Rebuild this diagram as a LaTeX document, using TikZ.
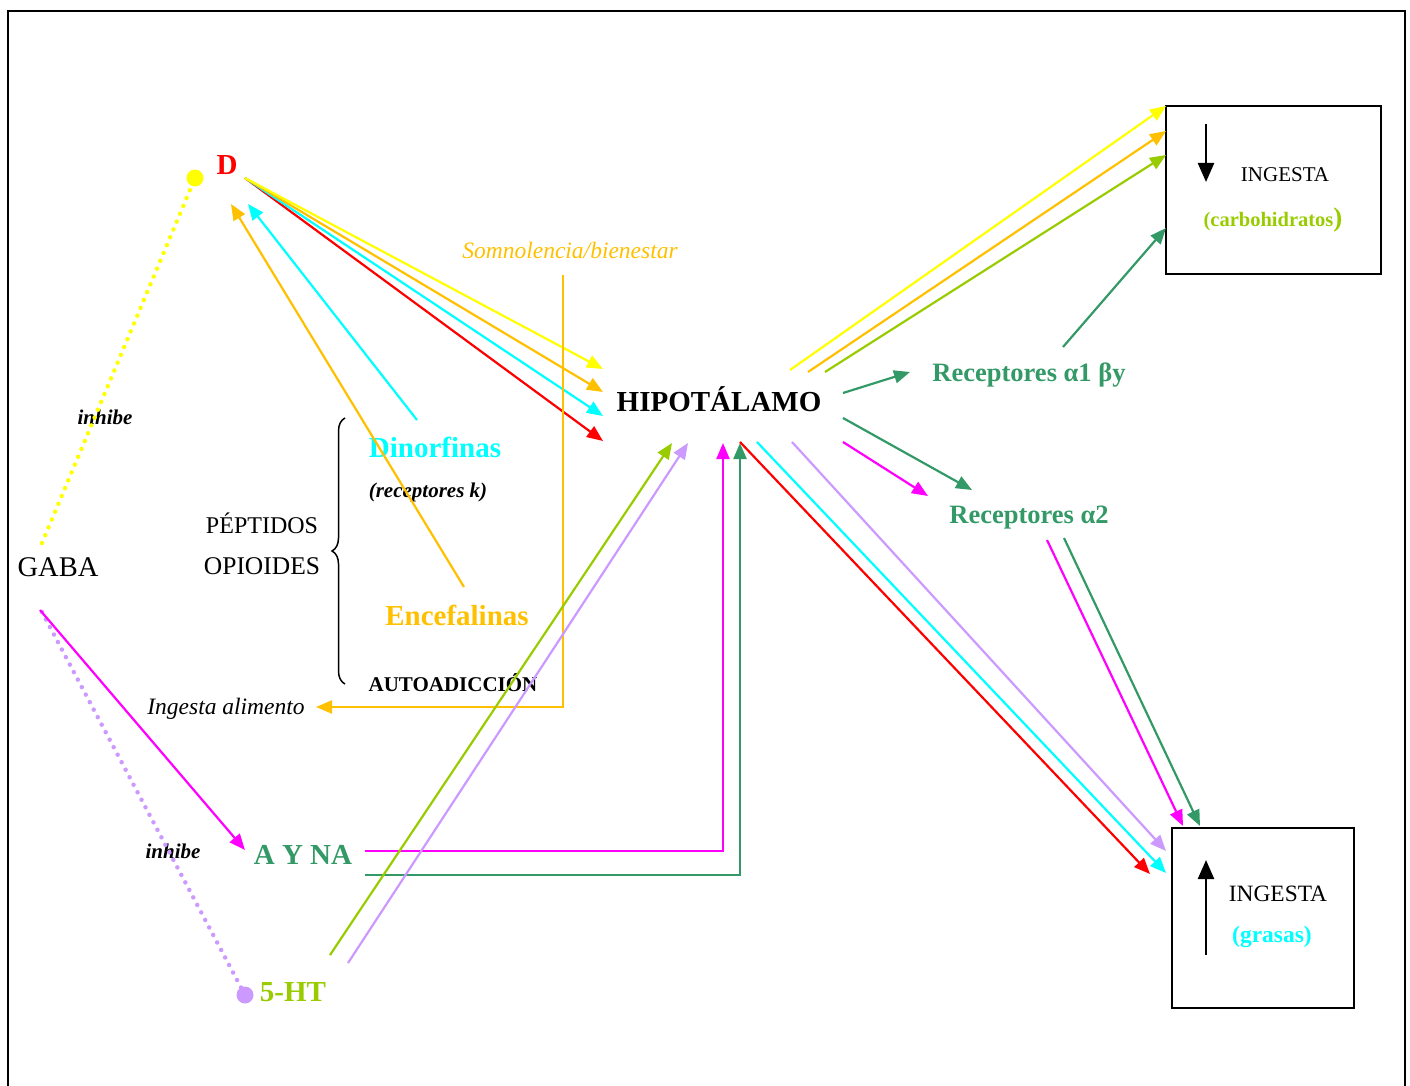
\documentclass[tikz,border=0pt]{standalone}
\usepackage{fontspec}
\setmainfont{Liberation Serif}
\usetikzlibrary{arrows.meta,decorations.pathreplacing}
\definecolor{cYel}{HTML}{FFFF00}
\definecolor{cOra}{HTML}{FFC000}
\definecolor{cCya}{HTML}{00FFFF}
\definecolor{cRed}{HTML}{FF0000}
\definecolor{cMag}{HTML}{FF00FF}
\definecolor{cGrn}{HTML}{339966}
\definecolor{cLim}{HTML}{99CC00}
\definecolor{cLav}{HTML}{CC99FF}
\tikzset{
  conn/.style={line width=2.2pt,-{Triangle[length=16pt,width=13pt]}},
  bigarr/.style={line width=2.4pt,-{Triangle[length=19pt,width=16pt]}},
  dotline/.style={line width=4.5pt,line cap=round,dash pattern=on 0pt off 8.5pt},
  lbl/.style={inner sep=0pt,anchor=center},
  bigb/.style={lbl,font=\fontsize{29}{33}\selectfont\bfseries},
  medr/.style={lbl,font=\fontsize{24}{28}\selectfont},
  smbi/.style={lbl,font=\fontsize{21}{24}\selectfont\bfseries\itshape},
  midi/.style={lbl,font=\fontsize{23.5}{27}\selectfont\itshape},
  boxr/.style={draw,line width=2pt},
}
\begin{document}
\begin{tikzpicture}[x=1pt,y=-1pt]
\useasboundingbox (0,0) rectangle (1410,1086);
% frame
\draw[line width=2.5pt] (8,1086) -- (8,11) -- (1405,11) -- (1405,1086);

% text nodes
\node[bigb,text=cRed] (D) at (227,165) {D};
\node[bigb] (hip) at (719,399) {HIPOTÁLAMO};
\node[lbl,text=cGrn,font=\fontsize{26.5}{29}\selectfont\bfseries] (ra1) at (1029,375) {Receptores α1 βy};
\node[lbl,text=cGrn,font=\fontsize{26.5}{29}\selectfont\bfseries] (ra2) at (1029,518) {Receptores α2};
\node[bigb,text=cCya] (din) at (435,447) {Dinorfinas};
\node[smbi] (rk) at (428,492) {(receptores k)};
\node[medr] (pep) at (262,523) {PÉPTIDOS};
\node[lbl,font=\fontsize{25.5}{29}\selectfont] (opi) at (262,566) {OPIOIDES};
\node[lbl,font=\fontsize{28.5}{32}\selectfont] (gaba) at (58,567) {GABA};
\node[bigb,text=cOra] (enc) at (457,615) {Encefalinas};
\node[lbl,font=\fontsize{21}{24}\selectfont\bfseries] (auto) at (453,683) {AUTOADICCIÓN};
\node[midi] (ing) at (226,709) {Ingesta alimento};
\node[smbi] (inh1) at (105,417) {inhibe};
\node[smbi] (inh2) at (173,851) {inhibe};
\node[bigb,text=cGrn] (ayna) at (303,855) {A Y NA};
\node[bigb,text=cLim] (ht) at (293,992) {5-HT};
\node[midi,text=cOra] (som) at (570,250) {Somnolencia/bienestar};

% boxes
\node[boxr,minimum width=215pt,minimum height=168pt,inner sep=0pt] (boxc) at (1273.5,190) {};
\node[boxr,minimum width=182pt,minimum height=180pt,inner sep=0pt] (boxg) at (1263,918) {};
\node[lbl,font=\fontsize{21}{24}\selectfont] (ingc) at (1285,175) {INGESTA};
\node[lbl,text=cLim,font=\bfseries] (carb) at (1273,220) {{\fontsize{20.5}{24}\selectfont(carbohidratos}{\fontsize{27}{28}\selectfont)}};
\node[lbl,font=\fontsize{23.4}{27}\selectfont] (ingg) at (1278,894) {INGESTA};
\node[lbl,text=cCya,font=\fontsize{23.5}{27}\selectfont\bfseries] (gras) at (1272,937) {(grasas)};

% coordinates
\coordinate (dS) at (245,178);
\coordinate (hY) at (603,369);
\coordinate (hO) at (603,392);
\coordinate (hC) at (603,416);
\coordinate (hR) at (603,441);
\coordinate (dinS) at (417,420);
\coordinate (dC) at (248,204);
\coordinate (encS) at (464,587);
\coordinate (dO) at (231,204);
\coordinate (ydot) at (195,178);
\coordinate (gTop) at (42,543);
\coordinate (gBot) at (42,612);
\coordinate (gMag) at (40,610);
\coordinate (ldot) at (245,995);
\coordinate (aynaT) at (245,850);
\coordinate (somA) at (563,275);
\coordinate (somB) at (563,707);
\coordinate (ingE) at (316,707);
\coordinate (aM) at (365,851);
\coordinate (aG) at (365,875);
\coordinate (hM) at (723,443);
\coordinate (hG) at (740,443);
\coordinate (htL) at (330,955);
\coordinate (htV) at (348,963);
\coordinate (hL) at (672,443);
\coordinate (hV) at (688,443);
\coordinate (rY) at (790,370);
\coordinate (rO) at (808,372);
\coordinate (rL) at (825,372);
\coordinate (cY) at (1166,106);
\coordinate (cO) at (1166,131);
\coordinate (cL) at (1166,155);
\coordinate (hG1) at (843,393);
\coordinate (ra1T) at (910,372);
\coordinate (ra1S) at (1063,347);
\coordinate (cG) at (1166,228);
\coordinate (hG2) at (843,418);
\coordinate (ra2T) at (972,490);
\coordinate (hM2) at (843,442);
\coordinate (ra2M) at (928,496);
\coordinate (ra2Ms) at (1047,540);
\coordinate (ra2Gs) at (1064,538);
\coordinate (gM) at (1183,826);
\coordinate (gG) at (1200,826);
\coordinate (hbR) at (740,442);
\coordinate (hbC) at (757,442);
\coordinate (hbV) at (792,442);
\coordinate (gR) at (1150,874);
\coordinate (gC) at (1166,873);
\coordinate (gV) at (1166,851);
\coordinate (cArT) at (1206,124);
\coordinate (cArB) at (1206,182);
\coordinate (gArB) at (1206,955);
\coordinate (gArT) at (1206,860);
\coordinate (brB) at (345,684);
\coordinate (brT) at (345,418);

% brace
\draw[line width=1.5pt,decorate,decoration={brace,amplitude=13pt}] (brB) -- (brT);

% dotted inhibitions
\draw[dotline,cYel] (gTop) -- (ydot);
\fill[cYel] (ydot) circle (8.5);
\draw[dotline,cLav] (gBot) -- (ldot);
\fill[cLav] (ldot) circle (8.5);

% D fan
\draw[conn,cRed] (dS) -- (hR);
\draw[conn,cCya] (dS) -- (hC);
\draw[conn,cOra] (dS) -- (hO);
\draw[conn,cYel] (dS) -- (hY);
\draw[conn,cCya] (dinS) -- (dC);
\draw[conn,cOra] (encS) -- (dO);

% somnolencia
\draw[conn,cOra] (somA) -- (somB) -- (ingE);

% GABA -> A Y NA
\draw[conn,cMag] (gMag) -- (aynaT);

% A Y NA -> hipotalamo
\draw[conn,cMag] (aM) -| (hM);
\draw[conn,cGrn] (aG) -| (hG);

% 5-HT
\draw[conn,cLim] (htL) -- (hL);
\draw[conn,cLav] (htV) -- (hV);

% to carbohidratos
\draw[conn,cYel] (rY) -- (cY);
\draw[conn,cOra] (rO) -- (cO);
\draw[conn,cLim] (rL) -- (cL);
\draw[conn,cGrn] (hG1) -- (ra1T);
\draw[conn,cGrn] (ra1S) -- (cG);

% receptores a2
\draw[conn,cGrn] (hG2) -- (ra2T);
\draw[conn,cMag] (hM2) -- (ra2M);
\draw[conn,cMag] (ra2Ms) -- (gM);
\draw[conn,cGrn] (ra2Gs) -- (gG);

% to grasas
\draw[conn,cRed] (hbR) -- (gR);
\draw[conn,cCya] (hbC) -- (gC);
\draw[conn,cLav] (hbV) -- (gV);

% arrows inside boxes
\draw[bigarr,black] (cArT) -- (cArB);
\draw[bigarr,black] (gArB) -- (gArT);
\end{tikzpicture}
\end{document}
